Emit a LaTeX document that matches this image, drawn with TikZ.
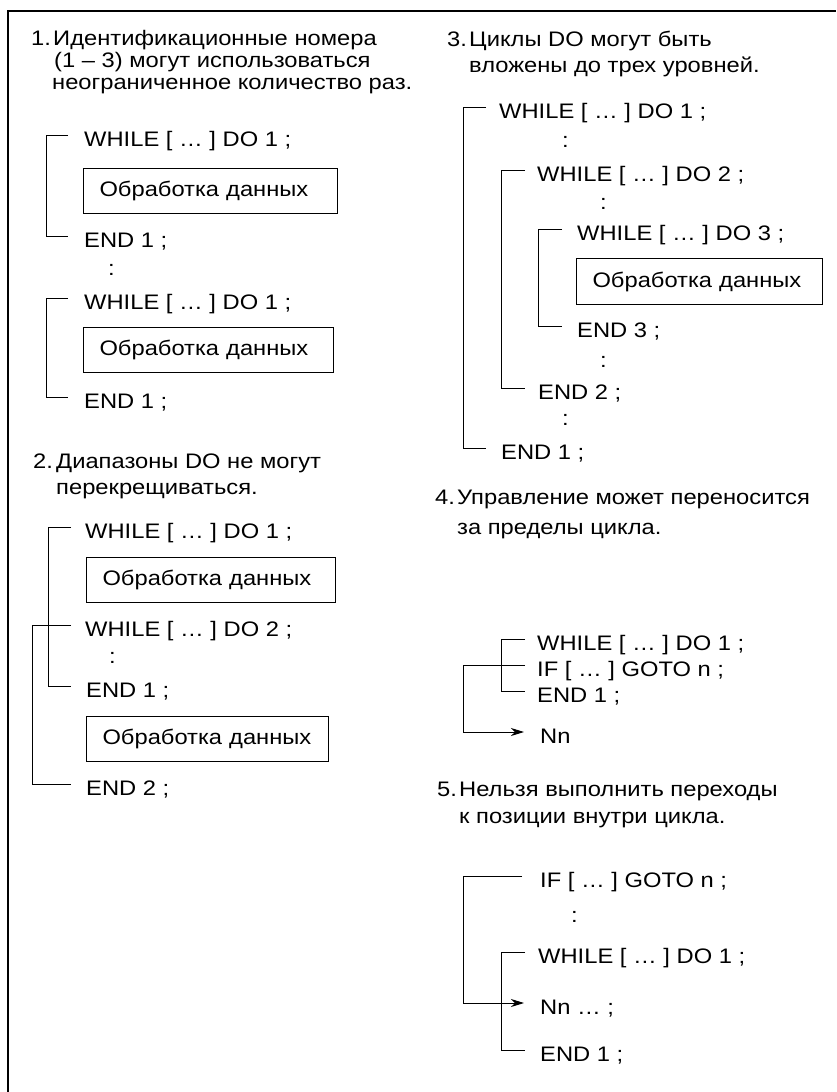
\documentclass[tikz,border=0pt]{standalone}
\usepackage{fontspec}
\setmainfont{Liberation Sans}[FakeStretch=1.13]
\usetikzlibrary{arrows.meta}
\begin{document}
\begin{tikzpicture}[x=1pt,y=-1pt,
  txt/.style={anchor=west, inner sep=0pt, text height=15pt, text depth=0pt,
    font=\fontsize{21pt}{25pt}\selectfont},
  box/.style={draw, line width=1pt, anchor=north west, inner xsep=16pt, inner ysep=0pt,
    minimum height=45pt, align=left, font=\fontsize{21pt}{25pt}\selectfont},
  brk/.style={line width=1pt},
  frm/.style={line width=2pt},
  jump/.style={line width=1pt, -{Stealth[length=13pt,width=8pt,inset=4pt]}}
]
\useasboundingbox (0,0) rectangle (836,1092);
\draw[frm] (8,1092) -- (8,11) -- (836,11);

% ---------- Section 1
\node[txt] (n1) at (31,38) {1.};
\node[txt] (h1a) at (53,38) {Идентификационные номера};
\node[txt] (h1b) at (54,60) {(1 – 3) могут использоваться};
\node[txt] (h1c) at (52,82) {неограниченное количество раз.};

\node[txt] (w11) at (84,139) {WHILE [ … ] DO 1 ;};
\node[box, text width=222pt] (b11) at (83,168) {Обработка данных};
\node[txt] (e11) at (84,240) {END 1 ;};
\node[txt] (c11) at (108,268) {:};
\node[txt] (w12) at (84,302) {WHILE [ … ] DO 1 ;};
\node[box, text width=218pt] (b12) at (83,327) {Обработка данных};
\node[txt] (e12) at (84,401) {END 1 ;};

\draw[brk] ([shift={(-16pt,4pt)}]w11.west) -- ++(-22pt,0) |- ([shift={(-16pt,4pt)}]e11.west);
\draw[brk] ([shift={(-16pt,4pt)}]w12.west) -- ++(-22pt,0) |- ([shift={(-16pt,4pt)}]e12.west);

% ---------- Section 2
\node[txt] (n2) at (33,461) {2.};
\node[txt] (h2a) at (56,461) {Диапазоны DO не могут};
\node[txt] (h2b) at (56,487) {перекрещиваться.};

\node[txt] (w21) at (85,531) {WHILE [ … ] DO 1 ;};
\node[box, text width=217pt] (b21) at (86,557) {Обработка данных};
\node[txt] (w22) at (85,629) {WHILE [ … ] DO 2 ;};
\node[txt] (c21) at (109,656) {:};
\node[txt] (e21) at (86,690) {END 1 ;};
\node[box, text width=210pt] (b22) at (86,716) {Обработка данных};
\node[txt] (e22) at (86,788) {END 2 ;};

\draw[brk] ([shift={(-14pt,4pt)}]w21.west) -- ++(-23pt,0) |- ([shift={(-15pt,4pt)}]e21.west);
\draw[brk] ([shift={(-14pt,4pt)}]w22.west) -- ++(-39pt,0) |- ([shift={(-15pt,4pt)}]e22.west);

% ---------- Section 3
\node[txt] (n3) at (447,39) {3.};
\node[txt] (h3a) at (469,39) {Циклы DO могут быть};
\node[txt] (h3b) at (469,65) {вложены до трех уровней.};

\node[txt] (w31) at (499,111) {WHILE [ … ] DO 1 ;};
\node[txt] (c31) at (562,140) {:};
\node[txt] (w32) at (537,174) {WHILE [ … ] DO 2 ;};
\node[txt] (c32) at (600,202) {:};
\node[txt] (w33) at (577,233) {WHILE [ … ] DO 3 ;};
\node[box, text width=214pt, minimum height=46pt] (b31) at (576,258) {Обработка данных};
\node[txt] (e33) at (577,330) {END 3 ;};
\node[txt] (c33) at (600,360) {:};
\node[txt] (e32) at (538,392) {END 2 ;};
\node[txt] (c34) at (562,418) {:};
\node[txt] (e31) at (501,452) {END 1 ;};

\draw[brk] ([shift={(-13pt,4pt)}]w31.west) -- ++(-23pt,0) |- ([shift={(-15pt,4pt)}]e31.west);
\draw[brk] ([shift={(-12pt,4pt)}]w32.west) -- ++(-24pt,0) |- ([shift={(-13pt,4pt)}]e32.west);
\draw[brk] ([shift={(-15pt,4pt)}]w33.west) -- ++(-24pt,0) |- ([shift={(-15pt,4pt)}]e33.west);

% ---------- Section 4
\node[txt] (n4) at (435,497) {4.};
\node[txt] (h4a) at (457,497) {Управление может переносится};
\node[txt] (h4b) at (457,527) {за пределы цикла.};

\node[txt] (w41) at (537,643) {WHILE [ … ] DO 1 ;};
\node[txt] (i41) at (537,669) {IF [ … ] GOTO n ;};
\node[txt] (e41) at (537,695) {END 1 ;};
\node[txt] (t41) at (540,736) {Nn};

\draw[brk] ([shift={(-12pt,4pt)}]w41.west) -- ++(-24pt,0) |- ([shift={(-12pt,4pt)}]e41.west);
\draw[jump] ([shift={(-12pt,4pt)}]i41.west) -- ++(-62pt,0) |- ([shift={(-16pt,4pt)}]t41.west);

% ---------- Section 5
\node[txt] (n5) at (437,789) {5.};
\node[txt] (h5a) at (459,789) {Нельзя выполнить переходы};
\node[txt] (h5b) at (459,816) {к позиции внутри цикла.};

\node[txt] (i51) at (540,880) {IF [ … ] GOTO n ;};
\node[txt] (c51) at (571,915) {:};
\node[txt] (w51) at (538,956) {WHILE [ … ] DO 1 ;};
\node[txt] (t51) at (540,1007) {Nn … ;};
\node[txt] (e51) at (540,1054) {END 1 ;};

\draw[brk] ([shift={(-13pt,4pt)}]w51.west) -- ++(-24pt,0) |- ([shift={(-15pt,4pt)}]e51.west);
\draw[jump] ([shift={(-18pt,4pt)}]i51.west) -- ++(-59pt,0) |- ([shift={(-16pt,4pt)}]t51.west);
\end{tikzpicture}
\end{document}
